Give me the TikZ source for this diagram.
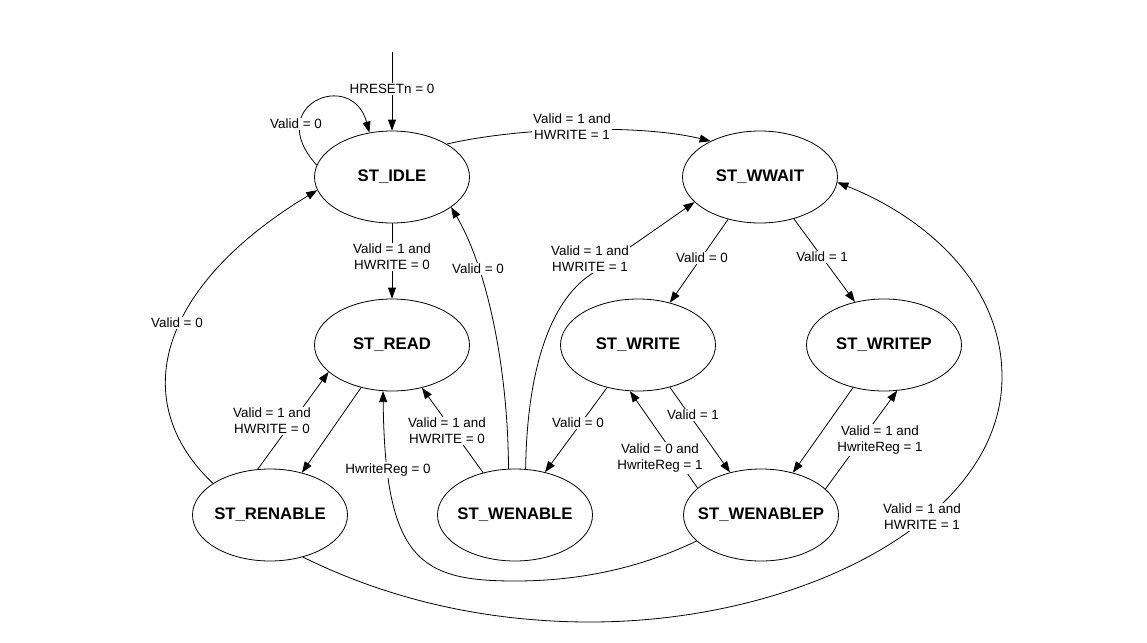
\documentclass[tikz,border=0pt]{standalone}
\usepackage{fontspec}
\setmainfont{Liberation Sans}
\usetikzlibrary{arrows.meta,shapes.geometric}
\newcommand{\stname}[1]{\makebox[0pt]{\fontsize{16.7}{20}\selectfont\bfseries #1}}
\begin{document}
\begin{tikzpicture}[x=1pt,y=-1pt,
  state/.style={draw, ellipse, minimum width=155pt, minimum height=92pt, inner sep=0pt,
    line width=0.8pt},
  lbl/.style={fill=white, inner sep=1.5pt, align=center, font=\fontsize{13.4}{16}\selectfont},
  tr/.style={draw, line width=0.8pt, -{Triangle[length=11pt,width=8pt]}},
  ln/.style={draw, line width=0.8pt}]
\useasboundingbox (0,0) rectangle (1147,642);

% states
\node[state] (idle)     at (392,177) {\stname{ST\_IDLE}};
\node[state] (wwait)    at (760,177) {\stname{ST\_WWAIT}};
\node[state] (read)     at (392,345) {\stname{ST\_READ}};
\node[state] (write)    at (638,345) {\stname{ST\_WRITE}};
\node[state] (writep)   at (884,345) {\stname{ST\_WRITEP}};
\node[state] (renable)  at (270,515) {\stname{ST\_RENABLE}};
\node[state] (wenable)  at (515,515) {\stname{ST\_WENABLE}};
\node[state] (wenablep) at (761,515) {\stname{ST\_WENABLEP}};

\coordinate (rst) at (392,52);

% transitions
\draw[tr] (rst) -- (idle.north);
\draw[tr] (idle.171) .. controls (262,105) and (352,68) .. (idle.117);
\draw[tr] (idle.31) .. controls (520,127) and (640,124) .. (wwait.144);
\draw[tr] (idle.south) -- (read.north);
\draw[tr] (wenable.98) .. controls (508,370) and (488,270) .. (idle.-27);
\draw[tr] (renable.151) .. controls (125,400) and (160,285) .. (idle.190);
\draw[tr] (wwait.233) -- (write.53);
\draw[tr] (wwait.309) -- (writep.124);
\draw[tr] (wenable.77) .. controls (527,370) and (550,302) .. (590,275) -- (wwait.201);
\draw[tr] (read.234) -- (renable.53);
\draw[tr] (renable.105) -- (read.203);
\draw[tr] (wenable.127) -- (read.305);
\draw[tr] (wenablep.202) .. controls (640,568) and (580,581) .. (515,581)
          .. controls (420,581) and (385,560) .. (read.259);
\draw[tr] (write.234) -- (wenable.55);
\draw[tr] (write.307) -- (wenablep.126);
\draw[tr] (wenablep.157) -- (write.260);
\draw[tr] (writep.234) -- (wenablep.53);
\draw[tr] (wenablep.22) -- (writep.286);
\draw[tr] (renable.-52) .. controls (400,605) and (500,622) .. (590,622)
          .. controls (800,622) and (1002,520) .. (1002,377)
          .. controls (1002,280) and (920,215) .. (wwait.-4);

% labels
\node[lbl] (lrst)  at (392,89)  {HRESETn = 0};
\node[lbl] (lloop) at (296,124) {Valid = 0};
\node[lbl] (liw)   at (572,127) {Valid = 1 and\\HWRITE = 1};
\node[lbl] (lir)   at (392,257) {Valid = 1 and\\HWRITE = 0};
\node[lbl] (lwei)  at (478,269) {Valid = 0};
\node[lbl] (lrei)  at (177,323) {Valid = 0};
\node[lbl] (lwwr)  at (702,258) {Valid = 0};
\node[lbl] (lwwp)  at (822,257) {Valid = 1};
\node[lbl] (lwew)  at (590,259) {Valid = 1 and\\HWRITE = 1};
\node[lbl] (lrer)  at (272,421) {Valid = 1 and\\HWRITE = 0};
\node[lbl] (lwer)  at (447,431) {Valid = 1 and\\HWRITE = 0};
\node[lbl] (lhr)   at (388,470) {HwriteReg = 0};
\node[lbl] (lwrwe) at (578,423) {Valid = 0};
\node[lbl] (lwrwp) at (693,415) {Valid = 1};
\node[lbl] (lwpw)  at (660,458) {Valid = 0 and\\HwriteReg = 1};
\node[lbl] (lwpwp) at (880,440) {Valid = 1 and\\HwriteReg = 1};
\node[lbl] (lrw)   at (922,517) {Valid = 1 and\\HWRITE = 1};
\end{tikzpicture}
\end{document}
